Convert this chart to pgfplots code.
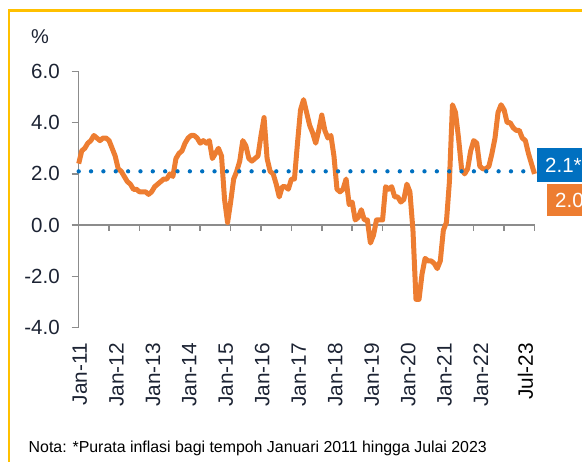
\documentclass[border=0pt]{standalone}
\usepackage{pgfplots}
\pgfplotsset{compat=1.18}
\usepackage{fontspec}
\setmainfont{Liberation Sans}
\definecolor{lineorange}{HTML}{ED7D31}
\definecolor{avgblue}{HTML}{0070C0}
\definecolor{frameyellow}{HTML}{FFC000}
\definecolor{axgray}{HTML}{8C8C8C}
\definecolor{txt}{HTML}{1C2333}
\pgfplotstableread{
m v
0 2.4
1 2.9
2 3.0
3 3.2
4 3.3
5 3.5
6 3.4
7 3.3
8 3.4
9 3.4
10 3.3
11 3.0
12 2.7
13 2.2
14 2.1
15 1.9
16 1.7
17 1.6
18 1.4
19 1.4
20 1.3
21 1.3
22 1.3
23 1.2
24 1.3
25 1.5
26 1.6
27 1.7
28 1.8
29 1.8
30 2.0
31 1.9
32 2.6
33 2.8
34 2.9
35 3.2
36 3.4
37 3.5
38 3.5
39 3.4
40 3.2
41 3.3
42 3.2
43 3.3
44 2.6
45 2.8
46 3.0
47 2.7
48 1.0
49 0.1
50 0.9
51 1.8
52 2.1
53 2.5
54 3.3
55 3.1
56 2.6
57 2.5
58 2.6
59 2.7
60 3.5
61 4.2
62 2.6
63 2.1
64 2.0
65 1.6
66 1.1
67 1.5
68 1.5
69 1.4
70 1.8
71 1.8
72 3.2
73 4.5
74 4.9
75 4.4
76 3.9
77 3.6
78 3.2
79 3.7
80 4.3
81 3.7
82 3.4
83 3.5
84 2.7
85 1.4
86 1.3
87 1.4
88 1.8
89 0.8
90 0.9
91 0.2
92 0.3
93 0.6
94 0.2
95 0.2
96 -0.7
97 -0.4
98 0.2
99 0.2
100 0.2
101 1.5
102 1.4
103 1.5
104 1.1
105 1.1
106 0.9
107 1.0
108 1.6
109 1.3
110 -0.2
111 -2.9
112 -2.9
113 -1.9
114 -1.3
115 -1.4
116 -1.4
117 -1.5
118 -1.7
119 -1.4
120 -0.2
121 0.1
122 1.7
123 4.7
124 4.4
125 3.4
126 2.2
127 2.0
128 2.2
129 2.9
130 3.3
131 3.2
132 2.3
133 2.2
134 2.2
135 2.3
136 2.8
137 3.4
138 4.4
139 4.7
140 4.5
141 4.0
142 4.0
143 3.8
144 3.7
145 3.7
146 3.4
147 3.3
148 2.8
149 2.4
150 2.0
}\cpidata
\begin{document}
\begin{tikzpicture}[x=1pt,y=1pt]
\clip (0,0) rectangle (582,462);
\useasboundingbox (0,0) rectangle (582,462);
\draw[frameyellow, line width=2.5pt] (9,-10) -- (9,451.3) -- (600,451.3);
\node[font=\fontsize{20}{20}\selectfont, text=txt] at (40,425) {\%};
\begin{axis}[
  at={(78.7pt,134.5pt)}, anchor=south west,
  scale only axis, width=455.8pt, height=256pt,
  xmin=0, xmax=150, ymin=-4, ymax=6,
  clip=false,
  axis x line*=bottom, axis y line*=left,
  x axis line style={draw=none},
  y axis line style={axgray, line width=1.5pt, -},
  xtick={0.4,12.4,...,132.4},
  xticklabels={Jan-11,Jan-12,Jan-13,Jan-14,Jan-15,Jan-16,Jan-17,Jan-18,Jan-19,Jan-20,Jan-21,Jan-22},
  extra x ticks={147},
  extra x tick labels={Jul-23},
  extra x tick style={xticklabel style={text=black}},
  xtick style={draw=none},
  xticklabel shift=5pt,
  xticklabel style={rotate=90, anchor=east, font=\fontsize{20.8}{21}\selectfont, text=txt},
  ytick={-4,-2,...,6},
  ytick style={axgray, line width=1.5pt},
  tick align=outside,
  major tick length=7pt,
  yticklabel style={font=\fontsize{20.5}{21}\selectfont, text=txt, xshift=-8.5pt,
    /pgf/number format/fixed, /pgf/number format/fixed zerofill,
    /pgf/number format/precision=1, /pgf/number format/assume math mode=true},
]
\draw[axgray, line width=1.5pt] (axis cs:0,0) -- (axis cs:150,0);
\pgfplotsinvokeforeach{0,10,...,150}{\draw[axgray, line width=1.5pt] (axis cs:#1,0) -- ++(0pt,-6pt);}
\addplot[lineorange, line width=5pt, line join=round, no markers] table[x=m, y=v] {\cpidata};
\addplot[avgblue, line width=4.3pt, line cap=round, dash pattern=on 0pt off 12.35pt, no markers] coordinates {(0,2.1) (150,2.1)};
\end{axis}
\fill[avgblue] (537,280) rectangle (600,314);
\node[anchor=west, text=white, font=\fontsize{20.5}{21}\selectfont, inner sep=0pt] at (545,297) {2.1*};
\fill[lineorange] (547,246) rectangle (600,278);
\node[anchor=west, text=white, font=\fontsize{20.5}{21}\selectfont, inner sep=0pt] at (555,262) {2.0};
\node[anchor=base west, text=black, font=\fontsize{15.9}{16}\selectfont, inner sep=0pt] at (28.5,9.3) {Nota: *Purata inflasi bagi tempoh Januari 2011 hingga Julai 2023};
\end{tikzpicture}
\end{document}
